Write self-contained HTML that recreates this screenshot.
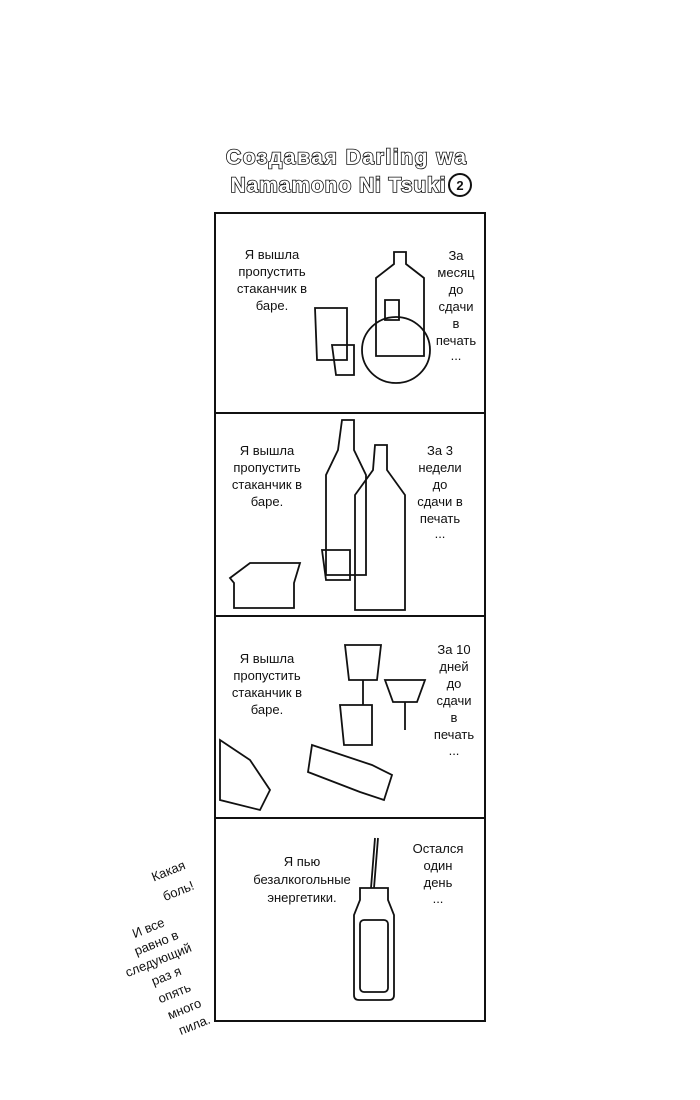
<!DOCTYPE html>
<html><head><meta charset="utf-8"><style>
html,body{margin:0;padding:0;background:#fff;width:700px;height:1100px;overflow:hidden}
svg{display:block}
text{font-family:"Liberation Sans",sans-serif;font-size:13px;fill:#111}
.t{font-weight:bold;font-size:21px;fill:#fff;stroke:#111;stroke-width:1.6;paint-order:stroke}
</style></head><body>
<svg width="700" height="1100" viewBox="0 0 700 1100">
<g fill="none" stroke="#111" stroke-width="2">
<rect x="215" y="213" width="270" height="808"/>
<line x1="215" y1="413" x2="485" y2="413"/>
<line x1="215" y1="616" x2="485" y2="616"/>
<line x1="215" y1="818" x2="485" y2="818"/>
</g>
<text class="t" x="346" y="164" text-anchor="middle" textLength="240">Создавая Darling wa</text>
<text class="t" x="338" y="192" text-anchor="middle" textLength="215">Namamono Ni Tsuki</text>
<circle cx="460" cy="185" r="11" fill="none" stroke="#111" stroke-width="2"/>
<text x="460" y="190" text-anchor="middle" font-weight="bold">2</text>

<!-- panel 1 -->
<g text-anchor="middle">
<text x="272" y="259">Я вышла</text><text x="272" y="276">пропустить</text><text x="272" y="293">стаканчик в</text><text x="272" y="310">баре.</text>
<text x="456" y="260">За</text><text x="456" y="277">месяц</text><text x="456" y="294">до</text><text x="456" y="311">сдачи</text><text x="456" y="328">в</text><text x="456" y="345">печать</text><text x="456" y="360">...</text>
</g>
<g fill="none" stroke="#111" stroke-width="1.8">
<path d="M394 252h12v12l18 14v78h-48v-78l18-14z"/>
<path d="M315 308h32v52h-30z"/><path d="M332 345h22v30h-18z"/>
<ellipse cx="396" cy="350" rx="34" ry="33"/><path d="M385 300h14v20h-14z"/>
</g>
<!-- panel 2 -->
<g text-anchor="middle">
<text x="267" y="455">Я вышла</text><text x="267" y="472">пропустить</text><text x="267" y="489">стаканчик в</text><text x="267" y="506">баре.</text>
<text x="440" y="455">За 3</text><text x="440" y="472">недели</text><text x="440" y="489">до</text><text x="440" y="506">сдачи в</text><text x="440" y="523">печать</text><text x="440" y="538">...</text>
</g>
<g fill="none" stroke="#111" stroke-width="1.8">
<path d="M342 420h12v30l12 25v100h-40v-100l12-25z"/>
<path d="M375 445h12v25l18 25v115h-50v-115l18-25z"/>
<path d="M322 550h28v30h-24z"/>
<path d="M230 578l20-15h50l-6 20v25h-60v-25z"/>
</g>
<!-- panel 3 -->
<g text-anchor="middle">
<text x="267" y="663">Я вышла</text><text x="267" y="680">пропустить</text><text x="267" y="697">стаканчик в</text><text x="267" y="714">баре.</text>
<text x="454" y="654">За 10</text><text x="454" y="671">дней</text><text x="454" y="688">до</text><text x="454" y="705">сдачи</text><text x="454" y="722">в</text><text x="454" y="739">печать</text><text x="454" y="755">...</text>
</g>
<g fill="none" stroke="#111" stroke-width="1.8">
<path d="M345 645h36l-4 35h-28z"/><line x1="363" y1="680" x2="363" y2="705"/>
<path d="M385 680h40l-8 22h-24z"/><line x1="405" y1="702" x2="405" y2="730"/>
<path d="M340 705h32v40h-28z"/>
<path d="M312 745l60 20 20 10-8 25-24-8-52-20z"/>
<path d="M220 740l30 20 20 30-10 20-40-10z"/>
</g>
<!-- panel 4 -->
<g text-anchor="middle">
<text x="302" y="866">Я пью</text><text x="302" y="884">безалкогольные</text><text x="302" y="902">энергетики.</text>
<text x="438" y="853">Остался</text><text x="438" y="870">один</text><text x="438" y="887">день</text><text x="438" y="903">...</text>
</g>
<g fill="none" stroke="#111" stroke-width="1.8">
<path d="M375 838l-4 50"/><path d="M378 838l-4 50"/>
<path d="M360 888h28v12l6 15v80q0 5-5 5h-30q-5 0-5-5v-80l6-15z"/>
<rect x="360" y="920" width="28" height="72" rx="4"/>
</g>
<g text-anchor="middle">
<text x="170" y="875" transform="rotate(-22 170 875)" font-size="16">Какая</text>
<text x="180" y="895" transform="rotate(-22 180 895)" font-size="16">боль!</text>
<text x="150" y="932" transform="rotate(-22 150 932)">И все</text>
<text x="158" y="947" transform="rotate(-22 158 947)">равно в</text>
<text x="160" y="964" transform="rotate(-22 160 964)">следующий</text>
<text x="168" y="980" transform="rotate(-22 168 980)">раз я</text>
<text x="176" y="997" transform="rotate(-22 176 997)">опять</text>
<text x="186" y="1013" transform="rotate(-22 186 1013)">много</text>
<text x="196" y="1029" transform="rotate(-22 196 1029)">пила.</text>
</g>
</svg>
</body></html>
